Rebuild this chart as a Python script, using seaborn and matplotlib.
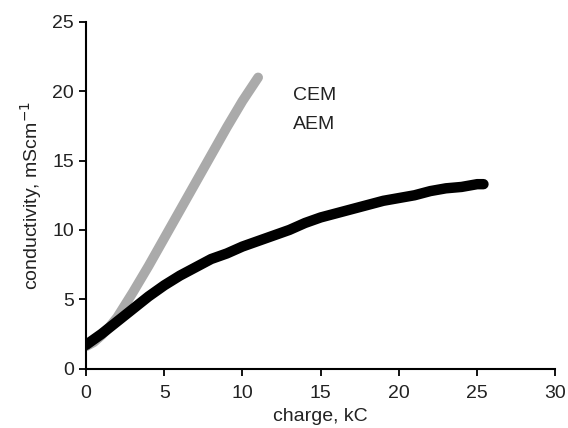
import pandas as pd
import seaborn as sns
import matplotlib.pyplot as plt

# values
cem_charge = [0, 0.5, 1, 1.5, 2, 3, 4, 5, 6, 7, 8, 9, 10, 11]
cem_cond = [1.6, 1.9, 2.4, 3.0, 3.7, 5.5, 7.4, 9.4, 11.4, 13.4, 15.4, 17.4, 19.3, 21.0]

aem_charge = [0, 1, 2, 3, 4, 5, 6, 7, 8, 9, 10, 11, 12, 13, 14, 15, 16, 17,
              18, 19, 20, 21, 22, 23, 24, 25, 25.4]
aem_cond = [1.7, 2.5, 3.4, 4.3, 5.2, 6.0, 6.7, 7.3, 7.9, 8.3, 8.8, 9.2, 9.6,
            10.0, 10.5, 10.9, 11.2, 11.5, 11.8, 12.1, 12.3, 12.5, 12.8, 13.0,
            13.1, 13.3, 13.3]

series_labels = ["CEM", "AEM"]


def main():
  sns.set_style("ticks")
  plt.rcParams['font.family'] = ['Liberation Sans', 'DejaVu Sans']
  fig = plt.figure(figsize=(5.68, 4.28), dpi=100)
  ax = fig.add_axes([0.1514, 0.139, 0.8265, 0.8096])

  cem = pd.DataFrame({'charge': cem_charge, 'cond': cem_cond})
  aem = pd.DataFrame({'charge': aem_charge, 'cond': aem_cond})

  sns.lineplot(data=cem, x='charge', y='cond', color='#aaaaaa',
               linewidth=7, solid_capstyle='round', ax=ax)
  sns.lineplot(data=aem, x='charge', y='cond', color='black',
               linewidth=7.5, solid_capstyle='round', ax=ax)

  ax.text(13.2, 19.7, series_labels[0], fontsize=14, va='center', color='#222222')
  ax.text(13.2, 17.6, series_labels[1], fontsize=14, va='center', color='#222222')

  ax.set_xlim(0, 30)
  ax.set_ylim(0, 25)
  ax.set_xticks(range(0, 31, 5))
  ax.set_yticks(range(0, 26, 5))
  ax.tick_params(labelsize=14, length=5, width=1.3, direction='out',
                 colors='black', labelcolor='#222222')
  ax.tick_params(axis='x', pad=7)
  for s in ['left', 'bottom']:
    ax.spines[s].set_linewidth(1.5)
    ax.spines[s].set_color('black')
  sns.despine(ax=ax)

  ax.set_xlabel("charge, kC", fontsize=14, labelpad=4, color='#222222')
  ax.set_ylabel("conductivity, mScm$^{-1}$", fontsize=14, labelpad=6, color='#222222')

  fig.savefig("out.png", dpi=100)


if __name__ == "__main__":
  main()
